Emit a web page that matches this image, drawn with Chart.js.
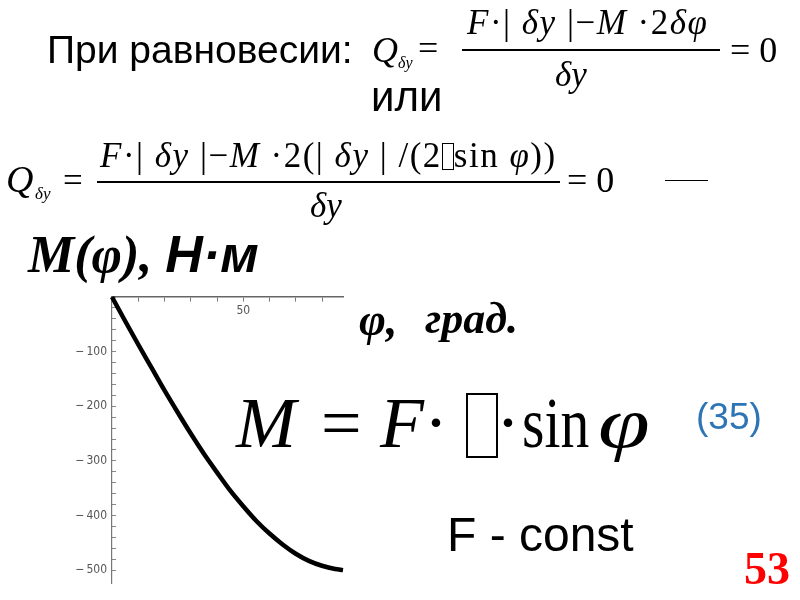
<!DOCTYPE html>
<html>
<head>
<meta charset="utf-8">
<script src="https://cdn.jsdelivr.net/npm/chart.js@4.4.1/dist/chart.umd.min.js"></script>
<style>
    html, body { margin: 0; padding: 0; background: #fff; }
    #page { position: relative; width: 800px; height: 600px; overflow: hidden; }
    #plot { position: absolute; left: 0; top: 0; }
    .t { position: absolute; white-space: nowrap; line-height: 1; color: #000; }
    .sans { font-family: "Liberation Sans", Arial, sans-serif; }
    .serif { font-family: "Liberation Serif", "Times New Roman", serif; }
    .bar { position: absolute; height: 1.5px; background: #000; }
    .box { display: inline-block; border: 1.5px solid #000; box-sizing: border-box; }
</style>
</head>
<body>
<div id="page">
    <canvas id="plot" width="800" height="600"></canvas>

    <div class="t sans" style="left:47px; top:30px; font-size:39px;">При равновесии:</div>

    <!-- formula 1 -->
    <div class="t serif" style="left:372px; top:32px; font-size:36px;"><i>Q</i></div>
    <div class="t serif" style="left:398px; top:55px; font-size:16px;"><i>δy</i></div>
    <div class="t serif" style="left:418px; top:30px; font-size:36px;">=</div>
    <div class="t serif" style="left:467px; top:5px; font-size:35px; letter-spacing:1.5px;"><i>F</i>·| <i>δy</i> |−<i>M</i> ·2<i>δφ</i></div>
    <div class="bar" style="left:462px; top:49px; width:258px;"></div>
    <div class="t serif" style="left:555px; top:57px; font-size:35px;"><i>δy</i></div>
    <div class="t serif" style="left:730px; top:32px; font-size:36px;">= 0</div>

    <div class="t sans" style="left:371px; top:76px; font-size:42px;">или</div>

    <!-- formula 2 -->
    <div class="t serif" style="left:6px; top:160px; font-size:38px;"><i>Q</i></div>
    <div class="t serif" style="left:35px; top:185px; font-size:17px;"><i>δy</i></div>
    <div class="t serif" style="left:63px; top:163px; font-size:35px;">=</div>
    <div class="t serif" style="left:100px; top:138px; font-size:35px; letter-spacing:1.5px;"><i>F</i>·| <i>δy</i> |−<i>M</i> ·2(| <i>δy</i> | /(2<span class="box" style="width:12px; height:27px; vertical-align:-3px;"></span>sin <i>φ</i>))</div>
    <div class="bar" style="left:97px; top:181px; width:463px;"></div>
    <div class="t serif" style="left:310px; top:188px; font-size:35px;"><i>δy</i></div>
    <div class="t serif" style="left:567px; top:162px; font-size:36px;">= 0</div>
    <div class="bar" style="left:665px; top:180px; width:43px; height:1px;"></div>

    <!-- axis titles -->
    <div class="t" style="left:28px; top:228px; font-size:52px; font-weight:bold; font-style:italic;"><span class="serif">M(φ), </span><span class="sans">Н·м</span></div>
    <div class="t serif" style="left:359px; top:297px; font-size:46px; font-weight:bold; font-style:italic;">φ,</div>
    <div class="t serif" style="left:425px; top:297px; font-size:44px; font-weight:bold; font-style:italic;">град.</div>

    <!-- formula 35 -->
    <div class="t serif" style="left:236px; top:387px; font-size:72px;"><i>M</i></div>
    <div class="t serif" style="left:321px; top:387px; font-size:72px;">=</div>
    <div class="t serif" style="left:380px; top:387px; font-size:72px;"><i>F</i></div>
    <div class="t serif" style="left:424px; top:387px; font-size:72px;">·</div>
    <div class="box" style="position:absolute; left:466px; top:393px; width:32px; height:65px; border-width:2px;"></div>
    <div class="t serif" style="left:496px; top:387px; font-size:72px;">·</div>
    <div class="t serif" style="left:522px; top:387px; font-size:72px; transform-origin:left; transform:scaleX(0.8);">sin</div>
    <div class="t serif" style="left:598px; top:387px; font-size:72px; transform-origin:left; transform:scaleX(1.3);"><i>φ</i></div>

    <div class="t sans" style="left:696px; top:398px; font-size:37px; color:#2e75b6;">(35)</div>
    <div class="t sans" style="left:447px; top:511px; font-size:48px;">F - const</div>
    <div class="t serif" style="left:744px; top:546px; font-size:46px; font-weight:bold; color:#f00;">53</div>
</div>

<script>
// M(phi) = F*l*sin(phi)
const phiDeg = [0, 5, 10, 15, 20, 25, 30, 35, 40, 45, 50, 55, 60, 65, 70, 75, 80, 85, 88];
const momentNm = [0, -44, -87, -129, -171, -211, -250, -287, -321, -354, -383, -410, -433, -453, -470, -483, -492, -498, -500];

const xMin = 0;
const xMax = 88;
const xTickStep = 10;
const xLabelValues = [50];

const yMin = -525;
const yMax = 0;
const yTickStep = 20;
const yLabelValues = [-100, -200, -300, -400, -500];

const tickFont = { family: "'DejaVu Sans Condensed', 'DejaVu Sans', sans-serif", size: 12 };

function buildPoints(xs, ys) {
    return xs.map((x, i) => ({ x: x, y: ys[i] }));
}

const ctx = document.getElementById("plot");

new Chart(ctx, {
    type: "line",
    data: {
        datasets: [{
            data: buildPoints(phiDeg, momentNm),
            borderColor: "#000",
            borderWidth: 4.5,
            pointRadius: 0,
            fill: false,
            cubicInterpolationMode: "monotone",
            clip: false,
        }],
    },
    options: {
        responsive: false,
        animation: false,
        events: [],
        layout: { padding: { left: 67, top: 297, right: 457, bottom: 5 } },
        plugins: { legend: { display: false }, tooltip: { enabled: false } },
        scales: {
            x: {
                type: "linear",
                position: { y: 0 },
                min: xMin,
                max: xMax,
                afterBuildTicks: scale => {
                    scale.ticks = scale.ticks.filter(t => t.value % xTickStep === 0);
                },
                ticks: {
                    stepSize: xTickStep,
                    autoSkip: false,
                    maxRotation: 0,
                    padding: 3,
                    color: "#555",
                    font: tickFont,
                    callback: v => xLabelValues.includes(v) ? String(v) : "",
                },
                grid: { drawOnChartArea: false, tickLength: 4, color: "#777", lineWidth: 1 },
                border: { color: "#666", width: 1.6 },
            },
            y: {
                type: "linear",
                position: "left",
                min: yMin,
                max: yMax,
                afterFit: scale => { scale.width = 45; },
                afterBuildTicks: scale => {
                    scale.ticks = scale.ticks.filter(t => t.value % yTickStep === 0);
                },
                ticks: {
                    stepSize: yTickStep,
                    autoSkip: false,
                    padding: 9,
                    color: "#555",
                    font: tickFont,
                    callback: v => yLabelValues.includes(v) ? "\u2212\u2009" + Math.abs(v) : "",
                },
                grid: { drawOnChartArea: false, tickLength: -4, color: "#888", lineWidth: 1 },
                border: { color: "#777", width: 1.2 },
            },
        },
    },
});
</script>
</body>
</html>
